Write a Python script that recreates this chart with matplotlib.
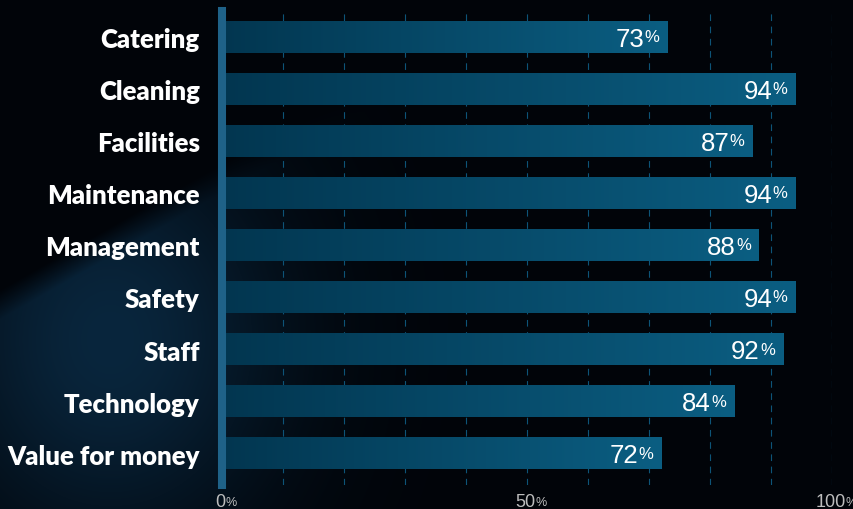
import numpy as np
import matplotlib
matplotlib.use("Agg")
import matplotlib.pyplot as plt
from matplotlib.colors import LinearSegmentedColormap, to_rgb
import matplotlib.transforms as mtransforms

categories = ["Catering", "Cleaning", "Facilities", "Maintenance", "Management",
              "Safety", "Staff", "Technology", "Value for money"]
scores = [73, 94, 87, 94, 88, 94, 92, 84, 72]
tick_values = [0, 50, 100]

W, H, DPI = 854, 510, 100
fig = plt.figure(figsize=(W / DPI, H / DPI), dpi=DPI)
fig.patch.set_facecolor("#010409")

# background: black with a soft navy glow below a diagonal on the left
bg_ax = fig.add_axes([0, 0, 1, 1], zorder=-10)
yy, xx = np.mgrid[0:H, 0:W]
line_y = 290 - 0.57 * xx
edge = np.clip((yy - line_y) / 30.0, 0, 1)
glow = np.exp(-(((xx - 110) / 170.0) ** 2 + ((yy - 340) / 200.0) ** 2)) * edge
base = np.array(to_rgb("#010409"))
navy = np.array(to_rgb("#09263d"))
img = base + glow[..., None] * (navy - base)
bg_ax.imshow(img, aspect="auto", extent=[0, 1, 0, 1])
bg_ax.axis("off")

ax = fig.add_axes([222 / W, 1 - 486 / H, 610 / W, (486 - 12) / H])
ax.patch.set_alpha(0)

bar_h = 0.6
cmap = LinearSegmentedColormap.from_list("bar", ["#023650", "#0b5e82"])
grad = np.linspace(0, 1, 256).reshape(1, -1)
for i, v in enumerate(scores):
    ax.imshow(grad, cmap=cmap, aspect="auto", zorder=2,
              extent=[0, v, i + bar_h / 2, i - bar_h / 2])
ax.set_xlim(0, 100)
ax.set_ylim(len(categories) - 1 + 0.6, -0.5)

# grid
ax.set_xticks(range(0, 101, 10))
ax.tick_params(axis="x", length=0, labelbottom=False)
ax.grid(axis="x", color="#0d5478", linewidth=0.8, linestyle=(0, (6, 5)))
ax.set_axisbelow(True)

for s in ["top", "right", "bottom"]:
    ax.spines[s].set_visible(False)
ax.spines["left"].set_color("#1f6288")
ax.spines["left"].set_linewidth(5.8)
ax.spines["left"].set_zorder(5)

ax.set_yticks(range(len(categories)))
ax.set_yticklabels(categories, fontfamily="Lato", fontweight="heavy",
                   fontsize=18.5, color="white")
ax.tick_params(axis="y", length=0, pad=16)

px = 72.0 / DPI

# value labels: big number + small raised percent sign
fig.canvas.draw()
renderer = fig.canvas.get_renderer()
pct_texts = []
for i, v in enumerate(scores):
    t = ax.annotate("%", xy=(v, i), xytext=(-8 * px, -4 * px),
                    textcoords="offset points", ha="right", va="baseline",
                    fontfamily="Liberation Sans", fontsize=12, color="white",
                    zorder=6)
    pct_texts.append(t)
fig.canvas.draw()
for i, v in enumerate(scores):
    wp = pct_texts[i].get_window_extent(renderer).width
    ax.annotate(str(v), xy=(v, i), xytext=(-(8 + wp + 0.5) * px, -8.5 * px),
                textcoords="offset points", ha="right", va="baseline",
                fontfamily="Liberation Sans", fontsize=18.5, color="white",
                zorder=6)

# x tick labels drawn manually (number + small percent)
trans = mtransforms.blended_transform_factory(ax.transData, ax.transAxes)
for tv in tick_values:
    n = ax.annotate(str(tv), xy=(tv, 0), xycoords=trans, xytext=(0, 0),
                    textcoords="offset points", ha="left", va="baseline",
                    fontfamily="Liberation Sans", fontsize=13, color="#bdbdbd",
                    annotation_clip=False)
    p = ax.annotate("%", xy=(tv, 0), xycoords=trans, xytext=(0, 0),
                    textcoords="offset points", ha="left", va="baseline",
                    fontfamily="Liberation Sans", fontsize=9, color="#bdbdbd",
                    annotation_clip=False)
    fig.canvas.draw()
    wn = n.get_window_extent(renderer).width
    wpp = p.get_window_extent(renderer).width
    x0 = 4 - (wn + wpp) / 2
    n.set_position((x0 * px, -21 * px))
    p.set_position(((x0 + wn + 0.5) * px, -20 * px))

fig.savefig("out.png", dpi=DPI, facecolor=fig.get_facecolor())
